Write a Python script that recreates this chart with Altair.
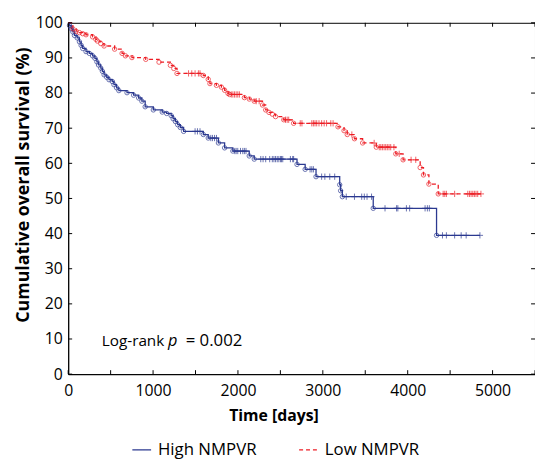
import altair as alt
import pandas as pd

groups = ["High NMPVR", "Low NMPVR"]
colors = ["#2B3990", "#ED1C24"]

# High NMPVR (blue): event times (days) and survival (%) after each event
high_event_t = [16, 36, 55, 74, 106, 132, 152, 171, 210, 249, 287, 315, 338, 357, 384, 403, 423, 454,
                481, 519, 539, 570, 597, 693, 771, 830, 868, 907, 1003, 1108, 1160, 1213, 1236, 1263,
                1290, 1321, 1360, 1592, 1650, 1770, 1843, 1940, 2133, 2192, 2696, 2792, 2920, 3199,
                3210, 3230, 3594, 4340]
high_event_s = [99.2, 98.3, 97.4, 96.4, 95.7, 94.6, 93.6, 92.7, 91.8, 91.3, 90.6, 89.9, 88.9, 88.0, 87.1,
                86.2, 85.2, 84.5, 83.8, 83.3, 82.4, 81.5, 80.7, 80.1, 79.4, 78.6, 77.7, 76.1, 75.2, 74.6,
                74.2, 73.6, 72.7, 71.9, 71.0, 70.2, 69.1, 68.2, 67.2, 65.8, 64.4, 63.5, 62.1, 61.2, 59.7,
                58.3, 56.2, 53.9, 52.2, 50.5, 47.2, 39.5]
high_censor_t = [1495, 1523, 1553, 1680, 1700, 1724, 1747, 1963, 1979, 1998, 2030, 2057, 2076, 2095,
                 2269, 2296, 2327, 2374, 2405, 2424, 2443, 2463, 2482, 2502, 2513, 2528, 2618, 2645,
                 2656, 2850, 2870, 2889, 2986, 3024, 3082, 3140, 3276, 3373, 3458, 3489, 3521, 3574,
                 3733, 3869, 3884, 3985, 4023, 4205, 4232, 4255, 4410, 4456, 4553, 4630, 4689, 4851]

# Low NMPVR (red)
low_event_t = [55, 94, 132, 171, 210, 287, 326, 345, 384, 423, 547, 635, 674, 751, 914, 1070, 1204,
               1244, 1282, 1592, 1650, 1670, 1747, 1805, 1843, 1883, 1901, 2076, 2134, 2192, 2289,
               2327, 2366, 2405, 2443, 2540, 2656, 3179, 3250, 3288, 3373, 3469, 3630, 3860, 3946,
               4147, 4186, 4250, 4360]
low_event_s = [98.3, 97.6, 97.2, 96.9, 96.6, 96.0, 95.3, 94.8, 94.1, 93.4, 92.5, 91.3, 90.6, 90.1, 89.6,
               88.8, 87.9, 87.0, 85.6, 85.0, 83.9, 82.7, 82.2, 81.7, 80.8, 79.9, 79.6, 78.7, 78.3, 77.7,
               76.6, 75.2, 74.5, 74.0, 73.3, 72.4, 71.4, 70.4, 69.3, 68.2, 67.0, 65.8, 64.6, 62.7, 61.0,
               58.8, 56.7, 54.1, 51.3]
low_censor_t = [1418, 1456, 1495, 1534, 1553, 1921, 1940, 1959, 1979, 1998, 2017, 2215, 2250, 2560,
                2580, 2598, 2734, 2754, 2870, 2889, 2908, 2928, 2955, 2986, 3016, 3044, 3094, 3121,
                3342, 3605, 3665, 3683, 3702, 3722, 3741, 3760, 3780, 3800, 3838, 3900, 4040, 4095,
                4418, 4437, 4456, 4553, 4708, 4728, 4747, 4767, 4786, 4805, 4825, 4863]

x_tick_values = list(range(0, 5501, 500))
x_label_values = [0, 1000, 2000, 3000, 4000, 5000]
y_tick_values = list(range(0, 101, 10))
annotation_parts = ["Log-rank", "p", "= 0.002"]
x_title = "Time [days]"
y_title = "Cumulative overall survival (%)"

W, H = 473, 356
FONT = "Open Sans"


def value_at(ev_t, ev_s, t):
    s = 100.0
    for et, es in zip(ev_t, ev_s):
        if et <= t:
            s = es
    return s


line_rows, event_rows, censor_rows = [], [], []
for g, et, es, ct in [(groups[0], high_event_t, high_event_s, high_censor_t),
                      (groups[1], low_event_t, low_event_s, low_censor_t)]:
    line_rows.append({"group": g, "t": 0, "s": 100.0})
    for t, s in zip(et, es):
        line_rows.append({"group": g, "t": t, "s": s})
        event_rows.append({"group": g, "t": t, "s": s})
    end_t = max(ct)
    line_rows.append({"group": g, "t": end_t, "s": value_at(et, es, end_t)})
    for t in ct:
        censor_rows.append({"group": g, "t": t, "s": value_at(et, es, t)})

lines_df = pd.DataFrame(line_rows)
events_df = pd.DataFrame(event_rows)
censor_df = pd.DataFrame(censor_rows)

xscale = alt.Scale(domain=[0, 5500], nice=False, zero=False)
yscale = alt.Scale(domain=[0, 100], nice=False)

x_axis = alt.Axis(values=x_label_values, format="d", ticks=False, grid=False, labelFontSize=16,
                  labelPadding=9, labelColor="black", domainColor="black", labelOverlap=False,
                  title=x_title, titleFontSize=16, titleFontWeight="bold", titleColor="black",
                  titleX=208, titleY=47, titleAlign="center", titleBaseline="alphabetic",
                  labelFlush=False)
y_axis = alt.Axis(values=y_tick_values, format="d", ticks=False, grid=False, labelFontSize=16,
                  labelPadding=6, labelColor="black", domainColor="black", labelOverlap=False,
                  title=y_title, titleFontSize=18, titleFontWeight="bold", titleColor="black",
                  titleX=-40, titleY=164, titleAlign="center", titleBaseline="alphabetic",
                  titleAngle=-90, labelFlush=False)

legend_def = alt.Legend(title=None, orient="none", legendX=64, legendY=422, direction="horizontal",
                        symbolType="stroke", symbolSize=361, symbolStrokeWidth=1.3, labelFontSize=17,
                        labelColor="black", labelOffset=6, columnPadding=40, padding=0)

lines = alt.Chart(lines_df).mark_line(interpolate="step-after", strokeWidth=1.3).encode(
    x=alt.X("t:Q", scale=xscale, axis=x_axis),
    y=alt.Y("s:Q", scale=yscale, axis=y_axis),
    color=alt.Color("group:N", scale=alt.Scale(domain=groups, range=colors), legend=legend_def),
    strokeDash=alt.StrokeDash("group:N", scale=alt.Scale(domain=groups, range=[[1, 0], [4, 3]]),
                              legend=legend_def),
)

circles = alt.Chart(events_df).mark_point(shape="circle", filled=False, size=20, strokeWidth=1).encode(
    x=alt.X("t:Q", axis=x_axis), y=alt.Y("s:Q", axis=y_axis),
    stroke=alt.Stroke("group:N", scale=alt.Scale(domain=groups, range=colors), legend=None),
)

censors = alt.Chart(censor_df).mark_point(shape="M0,-1V1M-1,0H1", filled=False, size=40,
                                          strokeWidth=1).encode(
    x=alt.X("t:Q", axis=x_axis), y=alt.Y("s:Q", axis=y_axis),
    stroke=alt.Stroke("group:N", scale=alt.Scale(domain=groups, range=colors), legend=None),
)

xt = pd.DataFrame({"t": x_tick_values})
yt = pd.DataFrame({"s": y_tick_values})
tick_bottom = alt.Chart(xt).mark_rule(color="black").encode(
    x=alt.X("t:Q", axis=x_axis), y=alt.value(H), y2=alt.value(H - 4))
tick_top = alt.Chart(xt).mark_rule(color="black").encode(
    x=alt.X("t:Q", axis=x_axis), y=alt.value(0), y2=alt.value(4))
tick_left = alt.Chart(yt).mark_rule(color="black").encode(
    y=alt.Y("s:Q", axis=y_axis), x=alt.value(0), x2=alt.value(4))
tick_right = alt.Chart(yt).mark_rule(color="black").encode(
    y=alt.Y("s:Q", axis=y_axis), x=alt.value(W), x2=alt.value(W - 4))

one = pd.DataFrame({"k": [0]})
txt1 = alt.Chart(one).mark_text(text=annotation_parts[0], font=FONT, fontSize=15.5, align="left",
                                baseline="alphabetic", color="black").encode(x=alt.value(34), y=alt.value(328))
txt2 = alt.Chart(one).mark_text(text=annotation_parts[1], font=FONT, fontSize=16.5, fontStyle="italic",
                                align="left", baseline="alphabetic", color="black").encode(
    x=alt.value(101), y=alt.value(328))
txt3 = alt.Chart(one).mark_text(text=annotation_parts[2], font=FONT, fontSize=17, align="left",
                                baseline="alphabetic", color="black").encode(x=alt.value(119), y=alt.value(328))

chart = alt.layer(lines, circles, censors, tick_bottom, tick_top, tick_left, tick_right,
                  txt1, txt2, txt3).properties(
    width=W, height=H,
    autosize=alt.AutoSizeParams(type="none"),
    padding={"left": 61, "top": 12, "right": 0, "bottom": 83},
).configure(font=FONT).configure_view(stroke="black", strokeWidth=1).configure_axis(labelOverlap=False)

chart.save("out.html", embed_options={"renderer": "svg", "actions": False})
